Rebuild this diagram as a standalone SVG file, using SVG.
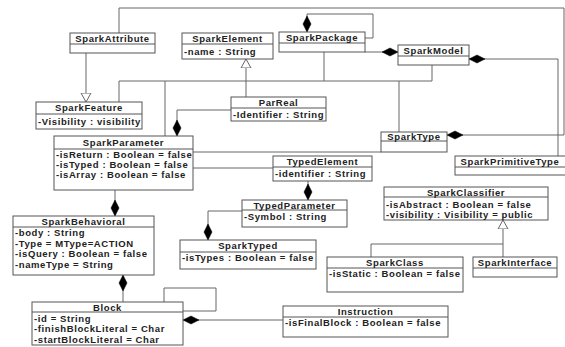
<svg xmlns="http://www.w3.org/2000/svg" width="565" height="347" viewBox="0 0 565 347">
<style>
.box{fill:#fff;stroke:#555;stroke-width:1}
.sep{stroke:#555;stroke-width:1}
.t{font-family:"Liberation Sans",Arial,sans-serif;font-weight:bold;font-size:9.5px;letter-spacing:0.6px;fill:#222;text-anchor:middle}
.a{font-family:"Liberation Sans",Arial,sans-serif;font-weight:bold;font-size:9.5px;letter-spacing:0.6px;fill:#222}
.c{fill:none;stroke:#666;stroke-width:1}
.d{marker-end:url(#dia)}
.g{marker-end:url(#tri)}
</style>
<defs>
<marker id="dia" viewBox="0 -5 17 10" refX="16" refY="0" markerWidth="17" markerHeight="10" markerUnits="userSpaceOnUse" orient="auto"><path d="M0,0 L8,-4 L16,0 L8,4 z" fill="#000" stroke="#000" stroke-width="0.5"/></marker>
<marker id="tri" viewBox="0 -6 10 12" refX="9" refY="0" markerWidth="10" markerHeight="12" markerUnits="userSpaceOnUse" orient="auto"><path d="M0,-5 L9,0 L0,5 z" fill="#fff" stroke="#666" stroke-width="1"/></marker>
</defs>
<rect width="565" height="347" fill="#fff"/>
<g id="connectors">
<path class="c d" d="M119,33 V8 H564 V135 H447"/>
<path class="c g" d="M86,53 V102"/>
<path class="c g" d="M246,97 V59"/>
<path class="c d" d="M365,38 H373 V14 H307 V32"/>
<path class="c d" d="M365,52 H398"/>
<path class="c d" d="M558,156 V59 H469"/>
<path class="c" d="M119,102 V81 H432 V65 M165,81 V136 M324,52 V81 M399,81 V132"/>
<path class="c d" d="M231,110 H177 V136"/>
<path class="c" d="M193,152 H381 M193,168 H273"/>
<path class="c d" d="M308,181 V200"/>
<path class="c d" d="M242,211 H208 V240"/>
<path class="c d" d="M115,190 V216"/>
<path class="c d" d="M123,302 V275"/>
<path class="c" d="M164,302 V288 H216 V311 H183"/>
<path class="c d" d="M283,320 H183"/>
<path class="c g" d="M371,257 V244 H503 V220"/>
<path class="c" d="M503,257 V244"/>
</g>
<g id="SparkAttribute"><rect class="box" x="70" y="33" width="85" height="20"/><line class="sep" x1="70" y1="44" x2="155" y2="44"/><text class="t" x="112.5" y="42">SparkAttribute</text></g>
<g id="SparkElement"><rect class="box" x="182" y="33" width="91" height="26"/><line class="sep" x1="182" y1="44" x2="273" y2="44"/><text class="t" x="227.5" y="42">SparkElement</text><text class="a" x="184" y="55">-name : String</text></g>
<g id="SparkPackage"><rect class="box" x="279" y="32" width="86" height="20"/><line class="sep" x1="279" y1="43" x2="365" y2="43"/><text class="t" x="322" y="41">SparkPackage</text></g>
<g id="SparkModel"><rect class="box" x="398" y="45" width="71" height="20"/><line class="sep" x1="398" y1="56" x2="469" y2="56"/><text class="t" x="433.5" y="54">SparkModel</text></g>
<g id="SparkFeature"><rect class="box" x="36" y="102" width="106" height="27"/><line class="sep" x1="36" y1="114" x2="142" y2="114"/><text class="t" x="89" y="111">SparkFeature</text><text class="a" x="38" y="125">-Visibility : visibility</text></g>
<g id="ParReal"><rect class="box" x="231" y="97" width="95" height="24"/><line class="sep" x1="231" y1="108" x2="326" y2="108"/><text class="t" x="278.5" y="106">ParReal</text><text class="a" x="233" y="118">-Identifier : String</text></g>
<g id="SparkParameter"><rect class="box" x="54" y="136" width="139" height="54"/><line class="sep" x1="54" y1="149" x2="193" y2="149"/><text class="t" x="123.5" y="146">SparkParameter</text><text class="a" x="56" y="158">-isReturn : Boolean = false</text><text class="a" x="56" y="168">-isTyped : Boolean = false</text><text class="a" x="56" y="178">-isArray : Boolean = false</text></g>
<g id="SparkType"><rect class="box" x="381" y="132" width="66" height="20"/><line class="sep" x1="381" y1="141" x2="447" y2="141"/><text class="t" x="414" y="140">SparkType</text></g>
<g id="SparkPrimitiveType"><rect class="box" x="455" y="156" width="115" height="19"/><line class="sep" x1="455" y1="167" x2="570" y2="167"/><text class="t" x="510" y="165">SparkPrimitiveType</text></g>
<g id="TypedElement"><rect class="box" x="273" y="156" width="99" height="25"/><line class="sep" x1="273" y1="167" x2="372" y2="167"/><text class="t" x="322.5" y="165">TypedElement</text><text class="a" x="275" y="177">-identifier : String</text></g>
<g id="TypedParameter"><rect class="box" x="242" y="200" width="105" height="27"/><line class="sep" x1="242" y1="210" x2="347" y2="210"/><text class="t" x="294.5" y="208.5">TypedParameter</text><text class="a" x="244" y="220">-Symbol : String</text></g>
<g id="SparkClassifier"><rect class="box" x="384" y="187" width="164" height="33"/><line class="sep" x1="384" y1="197" x2="548" y2="197"/><text class="t" x="466" y="195.5">SparkClassifier</text><text class="a" x="386" y="208">-isAbstract : Boolean = false</text><text class="a" x="386" y="218">-visibility : Visibility = public</text></g>
<g id="SparkTyped"><rect class="box" x="180" y="240" width="136" height="29"/><line class="sep" x1="180" y1="252" x2="316" y2="252"/><text class="t" x="248" y="249">SparkTyped</text><text class="a" x="182" y="261">-isTypes : Boolean = false</text></g>
<g id="SparkBehavioral"><rect class="box" x="13" y="216" width="141" height="59"/><line class="sep" x1="13" y1="227" x2="154" y2="227"/><text class="t" x="83.5" y="225">SparkBehavioral</text><text class="a" x="15" y="236">-body : String</text><text class="a" x="15" y="247">-Type = MType=ACTION</text><text class="a" x="15" y="257">-isQuery : Boolean = false</text><text class="a" x="15" y="268">-nameType = String</text></g>
<g id="SparkClass"><rect class="box" x="327" y="257" width="136" height="35"/><line class="sep" x1="327" y1="268" x2="463" y2="268"/><text class="t" x="395" y="266">SparkClass</text><text class="a" x="329" y="277">-isStatic : Boolean = false</text></g>
<g id="SparkInterface"><rect class="box" x="473" y="257" width="84" height="20"/><line class="sep" x1="473" y1="268" x2="557" y2="268"/><text class="t" x="515" y="266">SparkInterface</text></g>
<g id="Block"><rect class="box" x="32" y="302" width="151" height="43"/><line class="sep" x1="32" y1="312" x2="183" y2="312"/><text class="t" x="107.5" y="310.5">Block</text><text class="a" x="34" y="322">-id = String</text><text class="a" x="34" y="332">-finishBlockLiteral = Char</text><text class="a" x="34" y="343">-startBlockLiteral = Char</text></g>
<g id="Instruction"><rect class="box" x="283" y="306" width="165" height="31"/><line class="sep" x1="283" y1="317" x2="448" y2="317"/><text class="t" x="365.5" y="315">Instruction</text><text class="a" x="285" y="326">-isFinalBlock : Boolean = false</text></g>
</svg>
